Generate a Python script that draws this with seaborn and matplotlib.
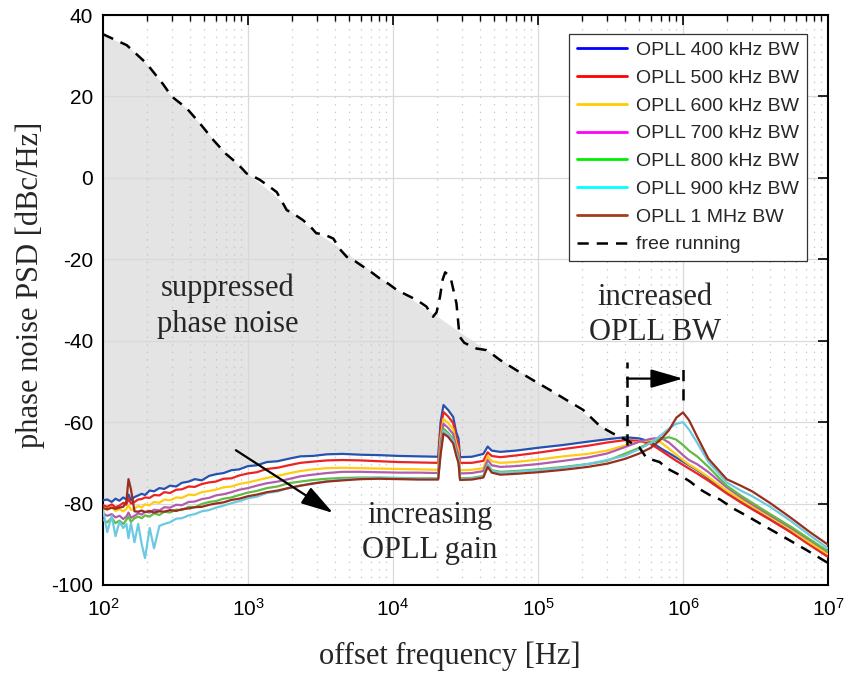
import numpy as np
import pandas as pd
import seaborn as sns
import matplotlib.pyplot as plt
from matplotlib.lines import Line2D

# offset frequency grid shared by the OPLL curves [Hz]
freq = [100, 107, 115, 122, 130, 138, 145, 150, 156, 165,
        175, 185, 195, 210, 225, 245, 265, 290, 320, 350,
        390, 430, 480, 540, 600, 680, 770, 870, 1000, 1150,
        1350, 1600, 1900, 2300, 2800, 3500, 4500, 6000, 8000, 11000,
        15000, 20500, 21300, 22300, 24000, 26000, 27300, 28300, 29000, 35000,
        42000, 45000, 48000, 55000, 70000, 100000, 150000, 220000, 300000, 400000,
        500000, 600000, 700000, 800000, 900000, 1000000, 1100000, 1250000, 1500000, 2000000,
        2500000, 3000000, 4000000, 5500000, 7500000, 10000000]

bw_400k = [-79.2, -79.0, -79.6, -78.8, -79.3, -78.5, -79.0, -77.8, -79.2, -78.4,
           -78.0, -77.6, -77.9, -76.8, -77.0, -76.2, -76.4, -75.6, -75.8, -74.9,
           -74.6, -74.0, -74.3, -73.2, -72.8, -72.5, -71.8, -71.6, -70.8, -70.6,
           -69.8, -69.6, -69.0, -68.4, -68.3, -67.9, -67.8, -68.0, -68.1, -68.3,
           -68.4, -68.5, -60.0, -55.8, -57.0, -58.7, -62.5, -64.0, -68.6, -68.5,
           -67.8, -66.0, -67.0, -67.3, -67.0, -66.3, -65.6, -64.8, -64.2, -63.7,
           -64.0, -64.8, -66.4, -67.6, -68.7, -69.7, -70.6, -71.8, -73.8, -77.2,
           -79.5, -81.2, -83.8, -86.8, -90.0, -93.0]
bw_500k = [-80.4, -80.8, -80.2, -80.9, -80.5, -79.8, -80.3, -78.8, -80.0, -79.6,
           -79.0, -78.9, -78.5, -78.6, -77.9, -78.0, -77.2, -77.4, -76.6, -76.5,
           -75.8, -75.9, -75.2, -74.8, -74.6, -73.9, -73.8, -73.1, -72.6, -72.3,
           -71.5, -71.2, -70.6, -70.0, -69.7, -69.4, -69.3, -69.4, -69.6, -69.8,
           -69.9, -70.0, -62.0, -57.5, -58.6, -60.2, -64.0, -65.5, -70.0, -70.0,
           -69.5, -67.4, -68.3, -68.6, -68.2, -67.5, -66.6, -65.8, -65.0, -64.4,
           -64.6, -65.4, -66.9, -68.3, -69.5, -70.5, -71.4, -72.6, -74.4, -77.5,
           -79.7, -81.4, -84.0, -87.0, -90.2, -93.1]
bw_600k = [-81.1, -81.6, -80.9, -81.8, -81.4, -81.9, -81.3, -80.4, -81.6, -81.2,
           -80.6, -80.9, -80.2, -80.4, -79.6, -79.8, -79.0, -79.2, -78.5, -78.6,
           -77.8, -77.9, -77.2, -76.9, -76.6, -76.0, -75.8, -75.2, -74.8, -74.3,
           -73.7, -73.2, -72.6, -72.0, -71.6, -71.3, -71.2, -71.3, -71.4, -71.5,
           -71.6, -71.7, -64.0, -59.2, -60.2, -61.7, -65.2, -67.0, -71.8, -71.7,
           -71.3, -68.3, -69.6, -70.0, -69.8, -69.2, -68.4, -67.8, -67.0, -65.7,
           -64.8, -64.4, -64.9, -66.5, -68.0, -69.3, -70.4, -71.6, -73.5, -76.8,
           -79.0, -80.7, -83.3, -86.3, -89.6, -92.4]
bw_700k = [-82.4, -83.0, -82.6, -83.4, -83.0, -83.8, -83.2, -82.2, -83.5, -83.0,
           -82.4, -82.7, -82.0, -82.2, -81.5, -81.7, -80.9, -81.0, -80.3, -80.4,
           -79.6, -79.5, -78.9, -78.6, -78.0, -77.7, -77.2, -76.6, -76.2, -75.6,
           -75.0, -74.6, -74.0, -73.3, -72.9, -72.5, -72.2, -72.2, -72.3, -72.4,
           -72.4, -72.5, -65.5, -60.4, -61.4, -62.9, -66.2, -68.0, -72.6, -72.5,
           -72.0, -69.3, -70.6, -71.0, -70.8, -70.3, -69.5, -68.7, -67.7, -66.1,
           -64.8, -64.1, -63.8, -65.0, -66.6, -68.1, -69.3, -70.3, -72.3, -76.0,
           -78.4, -80.2, -82.9, -85.9, -89.0, -91.9]
bw_800k = [-84.0, -84.6, -83.5, -84.8, -84.2, -85.0, -84.0, -83.2, -84.5, -83.6,
           -83.2, -83.6, -82.9, -83.2, -82.4, -82.8, -82.0, -82.2, -81.5, -81.6,
           -80.8, -80.9, -80.1, -79.6, -79.4, -78.8, -78.5, -77.9, -77.3, -76.9,
           -76.2, -75.8, -75.0, -74.6, -74.2, -73.9, -73.7, -73.6, -73.6, -73.7,
           -73.8, -73.8, -67.0, -61.6, -62.6, -64.1, -67.2, -69.0, -73.8, -73.7,
           -73.2, -70.4, -71.8, -72.2, -72.0, -71.6, -71.0, -70.3, -69.5, -67.7,
           -66.3, -65.0, -64.1, -63.7, -64.3, -65.6, -67.0, -68.4, -71.0, -75.6,
           -78.0, -79.8, -82.6, -85.6, -88.8, -91.7]
bw_900k = [-81.5, -87.0, -83.0, -88.0, -84.5, -86.0, -85.0, -88.5, -84.8, -89.5,
           -85.0, -90.0, -93.4, -86.0, -91.0, -85.5, -85.0, -84.6, -83.7, -83.6,
           -82.9, -82.6, -81.9, -81.6, -81.0, -80.5, -79.9, -79.4, -78.7, -78.3,
           -77.4, -77.0, -76.2, -75.6, -75.0, -74.5, -74.1, -73.8, -73.7, -73.8,
           -73.9, -73.9, -67.5, -62.2, -63.0, -64.5, -67.7, -69.5, -74.0, -73.9,
           -73.4, -70.6, -72.0, -72.4, -72.2, -71.8, -71.2, -70.3, -69.3, -68.2,
           -66.6, -65.1, -63.3, -61.6, -60.4, -60.0, -61.8, -65.0, -69.8, -74.8,
           -76.8, -78.2, -80.8, -84.2, -87.8, -91.0]
bw_1m = [-81.1, -81.4, -81.0, -81.3, -81.0, -80.8, -79.5, -74.0, -76.5, -81.9,
         -82.0, -81.7, -82.1, -81.8, -82.2, -81.9, -82.0, -81.6, -81.8, -81.4,
         -81.2, -80.9, -80.8, -80.3, -80.0, -79.7, -79.1, -78.8, -78.2, -77.8,
         -77.2, -76.8, -76.2, -75.6, -75.1, -74.6, -74.3, -74.0, -73.9, -74.0,
         -74.1, -74.1, -68.0, -62.8, -63.6, -65.2, -68.2, -70.0, -74.2, -74.1,
         -73.6, -71.0, -72.4, -72.9, -72.7, -72.3, -71.7, -71.0, -70.2, -69.0,
         -67.7, -66.3, -64.3, -62.0, -58.9, -57.6, -59.5, -63.5, -69.0, -74.0,
         -75.6, -77.0, -79.9, -83.4, -87.0, -90.1]

labels = ["OPLL 400 kHz BW", "OPLL 500 kHz BW", "OPLL 600 kHz BW",
          "OPLL 700 kHz BW", "OPLL 800 kHz BW", "OPLL 900 kHz BW",
          "OPLL 1 MHz BW"]
line_colors = ["#2452b0", "#ee2222", "#ffcc11", "#b25cb0",
               "#62bb42", "#6ccae0", "#982e1e"]
legend_colors = ["#0000ff", "#ff0000", "#ffcc00", "#ff00ff",
                 "#00ee00", "#00ffff", "#a0401c"]

# free running laser
free_freq = [100, 146, 200, 260, 298, 378, 466, 577, 700, 790,
             900, 978, 1100, 1210, 1450, 1580, 1850, 2100, 2400, 2700,
             2960, 3300, 3880, 4300, 4800, 5500, 6230, 7000, 8100, 9300,
             10600, 12500, 14600, 17000, 18900, 20000, 21100, 22000, 22900, 24000,
             25200, 27400, 28800, 31000, 34000, 37500, 44000, 48000, 54600, 70800,
             92600, 121000, 158000, 205000, 268000, 330000, 408000, 500000, 560000, 690000,
             780000, 950000, 1120000, 1310000, 1530000, 1800000, 2220000, 2750000, 3400000, 4900000,
             7100000, 10000000]
free_running = [35.3, 32.6, 28.1, 23.0, 20.0, 17.1, 13.4, 9.3, 6.0, 4.4,
                2.5, 1.1, 0.3, -0.5, -2.5, -3.5, -7.9, -9.0, -10.4, -12.0,
                -13.6, -13.8, -14.9, -17.5, -19.4, -20.5, -21.8, -23.0, -24.7, -26.0,
                -27.5, -28.8, -30.0, -31.6, -34.1, -33.0, -29.2, -25.0, -23.2, -23.8,
                -25.1, -30.8, -39.0, -40.5, -41.2, -41.9, -42.3, -43.2, -44.7, -47.2,
                -49.7, -52.1, -54.6, -57.0, -61.0, -62.8, -64.4, -66.2, -68.8, -69.8,
                -71.4, -73.0, -74.6, -76.5, -77.9, -79.0, -81.2, -83.0, -84.9, -88.1,
                -91.4, -94.6]

# upper edge of the shaded "suppressed" region
fill_freq = [100, 150, 200, 260, 300, 380, 470, 600, 800, 1000,
             1500, 2300, 3000, 4000, 5000, 7000, 10000, 15000, 19000, 32000,
             50000, 92600, 150000, 268000, 350000]
fill_top = [35.2, 32.2, 28.0, 22.8, 19.8, 17.0, 13.2, 8.8, 4.2, 0.9,
            -4.0, -10.4, -13.6, -16.5, -19.0, -22.8, -26.8, -31.0, -33.4, -39.0,
            -43.6, -49.8, -54.3, -60.8, -63.6]

series = [bw_400k, bw_500k, bw_600k, bw_700k, bw_800k, bw_900k, bw_1m]
df = pd.DataFrame({
    "freq": np.tile(freq, len(series)),
    "psd": np.concatenate(series),
    "bw": np.repeat(labels, len(freq)),
})

sns.set_style("white")
plt.rcParams["font.family"] = ["Liberation Sans", "DejaVu Sans"]
plt.rcParams["mathtext.default"] = "regular"
plt.rcParams["axes.unicode_minus"] = False
serif = ["Liberation Serif", "DejaVu Serif"]
dash = (0, (4.5, 3.2))
head = "-|>,head_length=1.1,head_width=0.32"

fig = plt.figure(figsize=(8.46, 6.85), dpi=100)
ax = fig.add_axes([0.1217, 0.146, 0.857, 0.832])
ax.set_xscale("log")

# shaded region between free running edge and the 400 kHz curve
n_fill = sum(f <= 300000 for f in freq)
poly_x = fill_freq + freq[:n_fill][::-1]
poly_y = fill_top + bw_400k[:n_fill][::-1]
ax.fill(poly_x, poly_y, color="#e4e4e4", lw=0, zorder=1)

sns.lineplot(data=df, x="freq", y="psd", hue="bw", hue_order=labels,
             palette=dict(zip(labels, line_colors)), estimator=None,
             sort=False, lw=1.6, legend=False, ax=ax, zorder=3)
sns.lineplot(x=free_freq, y=free_running, color="black", lw=1.8,
             linestyle=dash, estimator=None, ax=ax, zorder=4)

ax.set_xlim(1e2, 1e7)
ax.set_ylim(-100, 40)
ax.set_yticks(range(-100, 41, 20))
ax.set_xticks([1e2, 1e3, 1e4, 1e5, 1e6, 1e7])

ax.set_axisbelow("line")
ax.grid(True, which="major", color="#d9d9d9", lw=0.9)
ax.grid(True, which="minor", axis="x", color="#c4c4c4", ls=(0, (1, 5)), lw=0.9)
ax.tick_params(which="both", direction="in", top=True, right=True,
               labelsize=15, colors="black")
ax.tick_params(which="major", length=7, width=1.2)
ax.tick_params(which="minor", length=4, width=1.0)
ax.tick_params(axis="x", pad=9)
ax.tick_params(axis="y", pad=7)
for sp in ax.spines.values():
    sp.set_linewidth(1.5)
    sp.set_color("black")

ax.set_xlabel("offset frequency [Hz]", family=serif, fontsize=22)
ax.set_ylabel("phase noise PSD [dBc/Hz]", family=serif, fontsize=22)
ax.xaxis.set_label_coords(0.478, -0.1)
ax.yaxis.set_label_coords(-0.08, 0.526)

# annotations
ax.text(728, -31.5, "suppressed\nphase noise", ha="center", va="center",
        family=serif, fontsize=22, linespacing=1.3, zorder=5)
ax.text(641e3, -33.7, "increased\nOPLL BW", ha="center", va="center",
        family=serif, fontsize=22, linespacing=1.3, zorder=5)
ax.text(18e3, -87.2, "increasing\nOPLL gain", ha="center", va="center",
        family=serif, fontsize=22, linespacing=1.3, zorder=5)

ax.annotate("", xy=(3860, -82.3), xytext=(826, -66.9),
            arrowprops=dict(arrowstyle=head, color="black", lw=1.6,
                            mutation_scale=18, shrinkA=0, shrinkB=0), zorder=6)

bw_lo, bw_hi = 411e3, 1e6
ax.vlines(bw_lo, -65.5, -45.2, colors="black", lw=1.8, linestyles=dash, zorder=6)
ax.vlines(bw_hi, -54.5, -45.2, colors="black", lw=1.8, linestyles=dash, zorder=6)
ax.annotate("", xy=(bw_hi, -49.3), xytext=(bw_lo, -49.3),
            arrowprops=dict(arrowstyle=head, color="black", lw=1.6,
                            mutation_scale=18, shrinkA=0, shrinkB=0), zorder=6)

handles = [Line2D([], [], color=c, lw=2) for c in legend_colors]
handles.append(Line2D([], [], color="black", lw=1.8, ls=dash))
leg = ax.legend(handles, labels + ["free running"], loc="upper right",
                bbox_to_anchor=(0.971, 0.967), borderaxespad=0,
                fontsize=14, handlelength=2.6, handletextpad=0.45,
                labelspacing=0.52, borderpad=0.4, fancybox=False,
                framealpha=1, edgecolor="#333333")
leg.get_frame().set_linewidth(0.9)
leg.set_zorder(10)

fig.savefig("out.png", dpi=100)
